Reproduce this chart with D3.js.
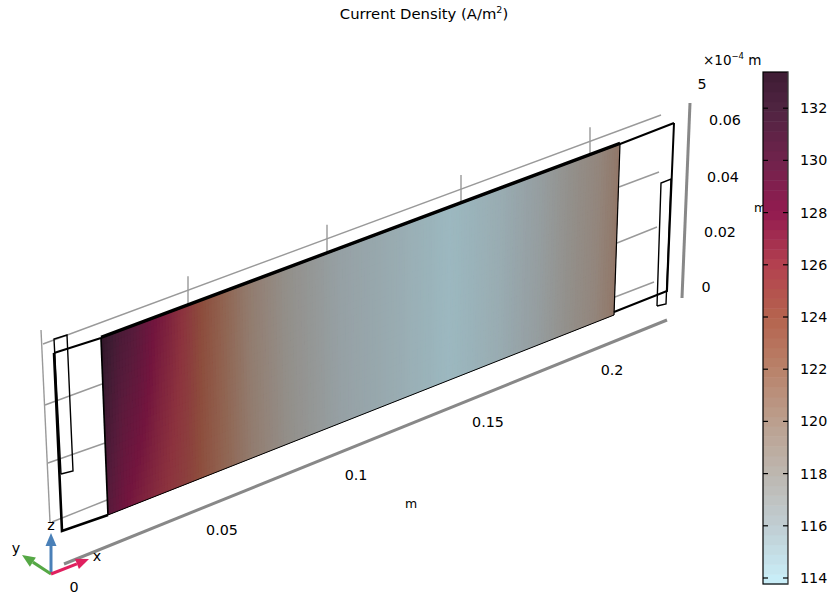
<!DOCTYPE html>
<html><head><meta charset="utf-8">
<script src="https://cdnjs.cloudflare.com/ajax/libs/d3/7.8.5/d3.min.js"></script>
<style>html,body{margin:0;background:#fff}svg{display:block}text{font-family:"DejaVu Sans",sans-serif;fill:#000}</style>
</head><body><svg id="c" width="829" height="596"></svg>
<script>
// Data
const positionsM      = [0.02,0.0248,0.0265,0.0317,0.0386,0.0438,0.049,0.0543,0.0651,0.0723,0.0849,0.1049,0.1272,0.1459,0.1651,0.1806,0.1922,0.204,0.212];
const densitiesTop    = [133.4,131.5,131.0,130,128,127,125.8,124.2,121.6,120,118,116,115,114,115,116.3,117.8,119,120.5];
const densitiesBottom = [129.8,128.5,128,127.2,126.3,125.6,124.8,123.6,121.4,119.9,118,116,115,114,115,116.3,117.8,119,120.5];
const colorValues = [113.8,114,116,118,120,122,124,126,128,130,132,133.4];
const colorHexes = ["#c9f0fa","#c8ecf6","#c0ced3","#bdb7b0","#bb9f8e","#b9826a","#b5634e","#b3414f","#931b50","#70234c","#4f2441","#3e1c33"];
const legendTicks = [114,116,118,120,122,124,126,128,130,132];
const xTicks = [0.05,0.1,0.15,0.2];
const zTicks = [0,0.02,0.04,0.06];

const svg = d3.select("#c");
const color = d3.scaleLinear().domain(colorValues).range(colorHexes).interpolate(d3.interpolateRgb);
const SHADE = 0.78;
const lit = v => { const c = d3.rgb(color(v)); return d3.rgb(c.r*SHADE,c.g*SHADE,c.b*SHADE).formatHex(); };

// Projection of the model x axis on the back edge of the frame (perspective makes it non-uniform)
const xTop = d3.scaleLinear().domain([0.02,0.05,0.1,0.15,0.2,0.212]).range([101,188,327,461,590,620]);
const tFrac = d3.scaleLinear().domain([101,620]).range([0,1]);
const P = {tl:[101,338],tr:[620,144],br:[614,315],bl:[108,515]};
const lerp = (a,b,t)=>[a[0]+(b[0]-a[0])*t,a[1]+(b[1]-a[1])*t];
const surfPt = (x,s)=>{ const t=tFrac(xTop(x)); return lerp(lerp(P.tl,P.tr,t),lerp(P.bl,P.br,t),s); };
const line = d3.line();

function seg(pts,w,col,fill){ return svg.append("path").attr("d",line(pts)+(fill?"Z":"")).attr("fill",fill||"none").attr("stroke",col).attr("stroke-width",w).attr("stroke-linejoin","miter"); }

// grey grid behind
const G="#999";
const GW=1.4;
seg([[41,330],[50,522]],GW,G);
seg([[43,344],[661,115]],GW,G);
seg([[45,405],[102,384]],GW,G);
seg([[48,463],[105,443]],GW,G);
seg([[52,522],[107,500]],GW,G);
seg([[619,187],[659,172]],GW,G);
seg([[617,243],[657,227]],GW,G);
seg([[615,297],[654,282]],GW,G);
xTicks.forEach(x=>{ const tx=xTop(x), f=(tx-43)/(661-43), yb=344+(115-344)*f; seg([[tx,yb-14],[tx,yb+14]],GW,G); });

// surface: J(x,s), s running from the top edge to the bottom edge
const jTop = d3.scaleLinear().domain(positionsM).range(densitiesTop);
const jBot = d3.scaleLinear().domain(positionsM).range(densitiesBottom);
const NX=190, NS=24;
const gx = d3.range(NX+1).map(i=>0.02+(0.212-0.02)*i/NX);
const gs = d3.range(NS+1).map(i=>i/NS);
const cells=[];
for(let i=0;i<NX;i++) for(let j=0;j<NS;j++) cells.push({i,j});
svg.append("g").selectAll("path").data(cells).join("path")
  .attr("d",({i,j})=>{
    const a=gx[i], b=gx[Math.min(i+2,NX)], s0=gs[j], s1=gs[Math.min(j+2,NS)];
    return line([surfPt(a,s0),surfPt(b,s0),surfPt(b,s1),surfPt(a,s1)])+"Z";
  })
  .attr("fill",({i,j})=>{
    const xm=(gx[i]+gx[i+1])/2, sm=(gs[j]+gs[j+1])/2;
    return lit(jTop(xm)+(jBot(xm)-jTop(xm))*sm);
  });

// frame
seg([[54,353],[101,338],[620,144],[674,123]],2,"#000");
seg([[101,337],[620,143]],2.8,"#000");
seg([[674,123],[667,291],[614,312]],2,"#000");
seg([[54,353],[62,531],[108,515]],2.6,"#000");
seg([[101,338],[108,515]],1.7,"#000");
seg([[108,515],[614,315]],1,"#000");
seg([[620,144],[614,315]],1.2,"#000");
seg([[61,474],[54,339],[67,335],[73,471],[61,474]],1.4,"#000");
seg([[657,306],[661,183],[671,179],[666,304],[657,306]],1.4,"#000");

// axes bars
seg([[64,564],[667,320]],3,"#888");
seg([[690,103],[682,298]],3,"#888");

// x tick labels
const lx = d3.scaleLinear().domain(xTicks).range([222,356,488,612]);
const ly = d3.scaleLinear().domain(xTicks).range([530,475,422,370]);
const tick = (s,x,y,size=14.3,anchor="middle")=>svg.append("text").text(s).attr("x",x).attr("y",y).attr("font-size",size).attr("text-anchor",anchor).attr("dominant-baseline","central");
xTicks.forEach(x=>tick(d3.format("")(x),lx(x),ly(x)));
tick("0",74,587);
tick("m",411,503,12.5);

// z tick labels
const zx = d3.scaleLinear().domain(zTicks).range([706,720,723,725]);
const zy = d3.scaleLinear().domain(zTicks).range([287,232,177,120]);
zTicks.forEach(z=>tick(d3.format("")(z),zx(z),zy(z)));
tick("5",702,84);
tick("m",760,207,12.5);
// y scale label
const yl = svg.append("text").attr("x",703).attr("y",65).attr("font-size",13.5);
yl.append("tspan").text("×10");
yl.append("tspan").text("−4").attr("font-size",8.5).attr("dy",-6);
yl.append("tspan").text(" m").attr("dy",6);

// title
const t = svg.append("text").attr("x",424).attr("y",19).attr("font-size",14.8).attr("text-anchor","middle");
t.append("tspan").text("Current Density (A/m");
t.append("tspan").text("2").attr("font-size",9.5).attr("dy",-6);
t.append("tspan").text(")").attr("dy",6);

// colour bar
const cy = d3.scaleLinear().domain([114,116]).range([578,525.8]);
const bar = {x:763,w:25,y0:cy.invert(584),y1:cy.invert(72)};
const bands = d3.range(0,52).map(i=>bar.y0+(bar.y1-bar.y0)*i/52);
const bandH = (bar.y1-bar.y0)/52;
svg.append("g").selectAll("rect").data(bands).join("rect")
  .attr("x",bar.x).attr("width",bar.w)
  .attr("y",d=>cy(d+bandH)).attr("height",d=>cy(d)-cy(d+bandH)+0.5)
  .attr("fill",d=>color(d+bandH/2));
svg.append("rect").attr("x",bar.x).attr("y",72).attr("width",bar.w).attr("height",512).attr("fill","none").attr("stroke","#000").attr("stroke-width",1.2);
svg.append("rect").attr("x",bar.x+bar.w-0.3).attr("y",72).attr("width",1).attr("height",512).attr("fill","#888");
const ax = d3.axisRight(cy).tickValues(legendTicks).tickFormat(d3.format("d")).tickSize(0).tickPadding(12);
const gAx = svg.append("g").attr("transform",`translate(${bar.x+bar.w},0)`).call(ax);
gAx.select(".domain").remove();
gAx.selectAll("text").attr("font-size",14.3).attr("font-family","DejaVu Sans");
legendTicks.forEach(v=>{
  seg([[bar.x,cy(v)],[bar.x+5,cy(v)]],1.2,"#000");
  seg([[bar.x+bar.w-5,cy(v)],[bar.x+bar.w,cy(v)]],1.2,"#000");
});

// triad
function arrow(from,to,col){
  const dx=to[0]-from[0],dy=to[1]-from[1],L=Math.hypot(dx,dy),u=[dx/L,dy/L],n=[-u[1],u[0]];
  const head=13,hw=5.5,b=[to[0]-u[0]*head,to[1]-u[1]*head];
  seg([from,b],3,col);
  svg.append("path").attr("d",line([to,[b[0]+n[0]*hw,b[1]+n[1]*hw],[b[0]-n[0]*hw,b[1]-n[1]*hw]])+"Z").attr("fill",col);
}
const O=[51,574];
arrow(O,[51,533],"#4a80b8");
arrow(O,[22,555],"#55a845");
arrow(O,[89,559],"#e0205f");
tick("z",51,525);
tick("y",16,548);
tick("x",97,556);
</script></body></html>
